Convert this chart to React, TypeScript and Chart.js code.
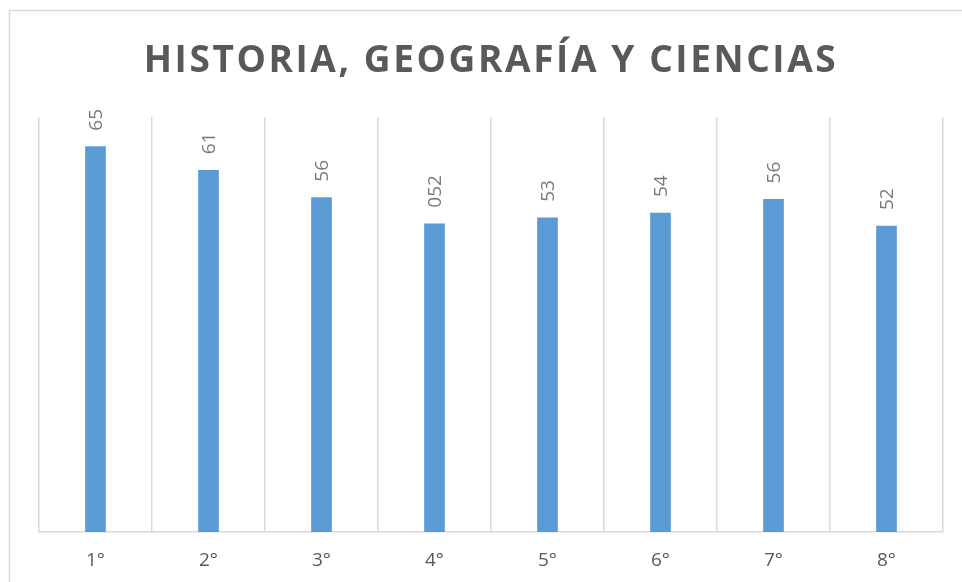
import React, { useEffect, useRef } from "react";
import { Chart, registerables } from "chart.js";

Chart.register(...registerables);

const TITLE = "HISTORIA, GEOGRAFÍA Y CIENCIAS";
const categories = ["1°", "2°", "3°", "4°", "5°", "6°", "7°", "8°"];
const values = [65, 61, 56.4, 52, 53, 53.8, 56.1, 51.6];
const valueLabels = ["65", "61", "56", "052", "53", "54", "56", "52"];

const framePlugin = {
  id: "frame",
  beforeDraw(chart: any) {
    const ctx = chart.ctx;
    ctx.save();
    ctx.strokeStyle = "#d9d9d9";
    ctx.lineWidth = 1.5;
    ctx.beginPath();
    ctx.moveTo(9.5, chart.height);
    ctx.lineTo(9.5, 10.5);
    ctx.lineTo(chart.width, 10.5);
    ctx.stroke();
    ctx.restore();
  },
};

const titlePlugin = {
  id: "customTitle",
  afterDraw(chart: any) {
    const ctx = chart.ctx;
    ctx.save();
    ctx.font = "bold 37px 'Open Sans'";
    (ctx as any).letterSpacing = "2.6px";
    ctx.fillStyle = "#595959";
    ctx.textAlign = "center";
    ctx.textBaseline = "alphabetic";
    const cx = (chart.chartArea.left + chart.chartArea.right) / 2;
    ctx.fillText(TITLE, cx, 72);
    ctx.restore();
  },
};

const valueLabelPlugin = {
  id: "valueLabels",
  afterDatasetsDraw(chart: any) {
    const ctx = chart.ctx;
    const meta = chart.getDatasetMeta(0);
    ctx.save();
    ctx.font = "19px 'Open Sans'";
    ctx.fillStyle = "#7a7a7a";
    ctx.textAlign = "left";
    ctx.textBaseline = "middle";
    meta.data.forEach((bar: any, i: number) => {
      ctx.save();
      ctx.translate(bar.x + 1, bar.y - 16);
      ctx.rotate(-Math.PI / 2);
      ctx.fillText(valueLabels[i], 0, 0);
      ctx.restore();
    });
    ctx.restore();
  },
};

export default function App() {
  const ref = useRef<HTMLCanvasElement | null>(null);
  useEffect(() => {
    if (!ref.current) return;
    const chart = new Chart(ref.current, {
      type: "bar",
      data: {
        labels: categories,
        datasets: [
          {
            data: values,
            backgroundColor: "#5b9bd5",
            barThickness: 20,
          },
        ],
      },
      options: {
        animation: false,
        responsive: false,
        layout: { padding: { left: 39, right: 19, top: 117, bottom: 0 } },
        plugins: {
          legend: { display: false },
          title: { display: false },
          tooltip: { enabled: false },
        },
        scales: {
          x: {
            offset: true,
            afterFit: (scale: any) => {
              scale.height = 50;
            },
            grid: {
              offset: true,
              color: "#d9d9d9",
              lineWidth: 1.5,
              drawTicks: false,
            },
            border: { display: true, color: "#d9d9d9", width: 1.5 },
            ticks: {
              padding: 17,
              color: "#595959",
              font: { family: "'Open Sans'", size: 19 },
            },
          },
          y: {
            display: false,
            min: 0,
            max: 70,
          },
        },
      },
      plugins: [framePlugin, titlePlugin, valueLabelPlugin],
    });
    return () => chart.destroy();
  }, []);
  return (
    <div style={{ position: "absolute", left: 0, top: 0, width: 962, height: 582, background: "#fff" }}>
      <canvas ref={ref} width={962} height={582} style={{ display: "block" }} />
    </div>
  );
}
